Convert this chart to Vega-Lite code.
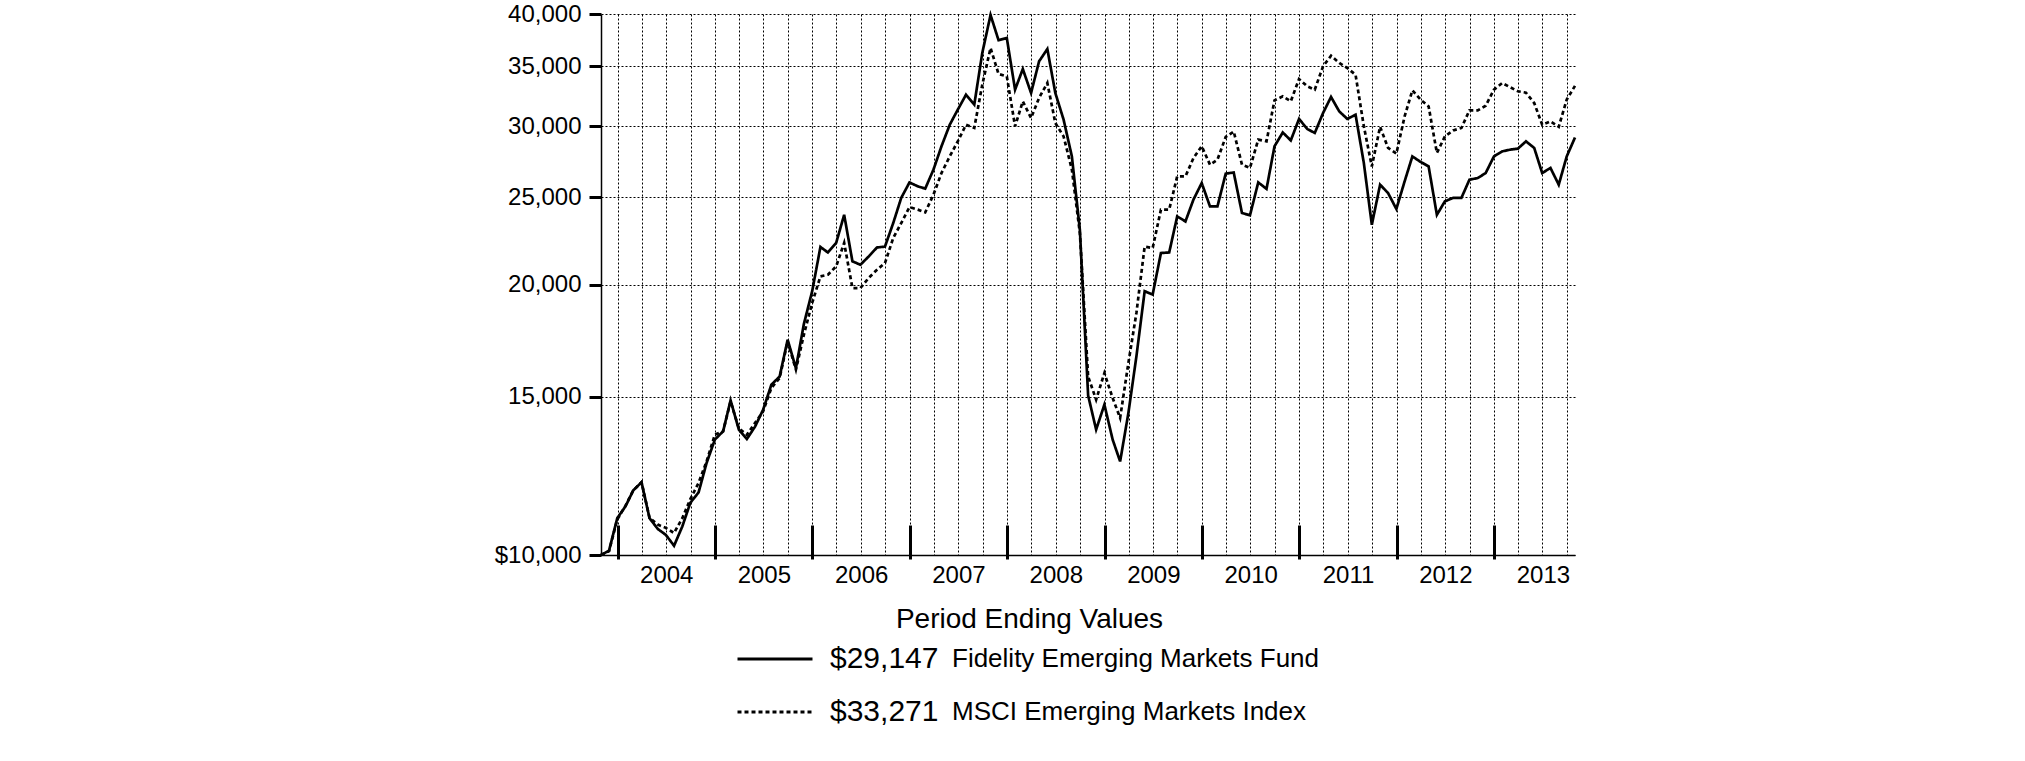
{
  "$schema": "https://vega.github.io/schema/vega-lite/v6.json",
  "width": 974,
  "height": 541,
  "autosize": {"type": "none"},
  "padding": {"left": 601, "top": 14, "right": 450, "bottom": 206},
  "background": "white",
  "config": {
    "view": {"stroke": null},
    "font": "Liberation Sans",
    "axis": {"labelFont": "Liberation Sans", "titleFont": "Liberation Sans", "labelColor": "black", "titleColor": "black"},
    "legend": {"labelFont": "Liberation Sans", "labelColor": "black", "labelLimit": 0}
  },
  "datasets": {
    "info": [
      {"key": "fund", "name": "Fidelity Emerging Markets Fund", "ending": "$29,147"},
      {"key": "index", "name": "MSCI Emerging Markets Index", "ending": "$33,271"}
    ]
  },
  "layer": [
    {
      "data": {"values": [
        {"date": "2003-10-31", "fund": 10000, "index": 10000},
        {"date": "2003-11-30", "fund": 10110, "index": 10100},
        {"date": "2003-12-31", "fund": 10990, "index": 10950},
        {"date": "2004-01-31", "fund": 11330, "index": 11350},
        {"date": "2004-02-29", "fund": 11800, "index": 11800},
        {"date": "2004-03-31", "fund": 12050, "index": 12050},
        {"date": "2004-04-30", "fund": 10990, "index": 11000},
        {"date": "2004-05-31", "fund": 10690, "index": 10810},
        {"date": "2004-06-30", "fund": 10530, "index": 10720},
        {"date": "2004-07-31", "fund": 10240, "index": 10580},
        {"date": "2004-08-31", "fund": 10760, "index": 10990},
        {"date": "2004-09-30", "fund": 11430, "index": 11540},
        {"date": "2004-10-31", "fund": 11740, "index": 12030},
        {"date": "2004-11-30", "fund": 12660, "index": 12710},
        {"date": "2004-12-31", "fund": 13440, "index": 13610},
        {"date": "2005-01-31", "fund": 13730, "index": 13730},
        {"date": "2005-02-28", "fund": 14860, "index": 14830},
        {"date": "2005-03-31", "fund": 13790, "index": 13830},
        {"date": "2005-04-30", "fund": 13460, "index": 13610},
        {"date": "2005-05-31", "fund": 13900, "index": 14030},
        {"date": "2005-06-30", "fund": 14510, "index": 14450},
        {"date": "2005-07-31", "fund": 15470, "index": 15340},
        {"date": "2005-08-31", "fund": 15800, "index": 15740},
        {"date": "2005-09-30", "fund": 17360, "index": 17290},
        {"date": "2005-10-31", "fund": 16140, "index": 16080},
        {"date": "2005-11-30", "fund": 18080, "index": 17590},
        {"date": "2005-12-31", "fund": 19660, "index": 19080},
        {"date": "2006-01-31", "fund": 22020, "index": 20420},
        {"date": "2006-02-28", "fund": 21710, "index": 20510},
        {"date": "2006-03-31", "fund": 22250, "index": 20950},
        {"date": "2006-04-30", "fund": 23910, "index": 22250},
        {"date": "2006-05-31", "fund": 21220, "index": 19820},
        {"date": "2006-06-30", "fund": 21040, "index": 19820},
        {"date": "2006-07-31", "fund": 21490, "index": 20340},
        {"date": "2006-08-31", "fund": 21990, "index": 20770},
        {"date": "2006-09-30", "fund": 22040, "index": 21130},
        {"date": "2006-10-31", "fund": 23410, "index": 22530},
        {"date": "2006-11-30", "fund": 24970, "index": 23410},
        {"date": "2006-12-31", "fund": 25980, "index": 24390},
        {"date": "2007-01-31", "fund": 25720, "index": 24230},
        {"date": "2007-02-28", "fund": 25570, "index": 24060},
        {"date": "2007-03-31", "fund": 26850, "index": 25180},
        {"date": "2007-04-30", "fund": 28500, "index": 26610},
        {"date": "2007-05-31", "fund": 30120, "index": 27770},
        {"date": "2007-06-30", "fund": 31300, "index": 28860},
        {"date": "2007-07-31", "fund": 32530, "index": 30120},
        {"date": "2007-08-31", "fund": 31710, "index": 29870},
        {"date": "2007-09-30", "fund": 36200, "index": 33370},
        {"date": "2007-10-31", "fund": 39900, "index": 36660},
        {"date": "2007-11-30", "fund": 37400, "index": 34300},
        {"date": "2007-12-31", "fund": 37610, "index": 34090},
        {"date": "2008-01-31", "fund": 32950, "index": 30000},
        {"date": "2008-02-29", "fund": 34740, "index": 31980},
        {"date": "2008-03-31", "fund": 32670, "index": 30640},
        {"date": "2008-04-30", "fund": 35430, "index": 32260},
        {"date": "2008-05-31", "fund": 36570, "index": 33520},
        {"date": "2008-06-30", "fund": 32670, "index": 30250},
        {"date": "2008-07-31", "fund": 30510, "index": 29230},
        {"date": "2008-08-31", "fund": 27770, "index": 26850},
        {"date": "2008-09-30", "fund": 23010, "index": 22820},
        {"date": "2008-10-31", "fund": 15050, "index": 15800},
        {"date": "2008-11-30", "fund": 13790, "index": 14890},
        {"date": "2008-12-31", "fund": 14700, "index": 15940},
        {"date": "2009-01-31", "fund": 13440, "index": 14950},
        {"date": "2009-02-28", "fund": 12710, "index": 14210},
        {"date": "2009-03-31", "fund": 14390, "index": 16360},
        {"date": "2009-04-30", "fund": 16630, "index": 18590},
        {"date": "2009-05-31", "fund": 19660, "index": 22040},
        {"date": "2009-06-30", "fund": 19490, "index": 21960},
        {"date": "2009-07-31", "fund": 21680, "index": 24230},
        {"date": "2009-08-31", "fund": 21710, "index": 24230},
        {"date": "2009-09-30", "fund": 23810, "index": 26380},
        {"date": "2009-10-31", "fund": 23510, "index": 26380},
        {"date": "2009-11-30", "fund": 24860, "index": 27650},
        {"date": "2009-12-31", "fund": 25940, "index": 28500},
        {"date": "2010-01-31", "fund": 24430, "index": 27190},
        {"date": "2010-02-28", "fund": 24430, "index": 27540},
        {"date": "2010-03-31", "fund": 26570, "index": 29190},
        {"date": "2010-04-30", "fund": 26650, "index": 29600},
        {"date": "2010-05-31", "fund": 24020, "index": 27190},
        {"date": "2010-06-30", "fund": 23880, "index": 26960},
        {"date": "2010-07-31", "fund": 25980, "index": 28990},
        {"date": "2010-08-31", "fund": 25550, "index": 28860},
        {"date": "2010-09-30", "fund": 28500, "index": 32060},
        {"date": "2010-10-31", "fund": 29530, "index": 32390},
        {"date": "2010-11-30", "fund": 28930, "index": 31980},
        {"date": "2010-12-31", "fund": 30570, "index": 33860},
        {"date": "2011-01-31", "fund": 29790, "index": 33230},
        {"date": "2011-02-28", "fund": 29490, "index": 32950},
        {"date": "2011-03-31", "fund": 31030, "index": 34980},
        {"date": "2011-04-30", "fund": 32340, "index": 35940},
        {"date": "2011-05-31", "fund": 31160, "index": 35280},
        {"date": "2011-06-30", "fund": 30570, "index": 34830},
        {"date": "2011-07-31", "fund": 30900, "index": 34230},
        {"date": "2011-08-31", "fund": 27310, "index": 30000},
        {"date": "2011-09-30", "fund": 23310, "index": 27070},
        {"date": "2011-10-31", "fund": 25830, "index": 29960},
        {"date": "2011-11-30", "fund": 25280, "index": 28380},
        {"date": "2011-12-31", "fund": 24270, "index": 27970},
        {"date": "2012-01-31", "fund": 26050, "index": 30770},
        {"date": "2012-02-29", "fund": 27770, "index": 32890},
        {"date": "2012-03-31", "fund": 27380, "index": 32120},
        {"date": "2012-04-30", "fund": 27070, "index": 31570},
        {"date": "2012-05-31", "fund": 23910, "index": 28020},
        {"date": "2012-06-30", "fund": 24750, "index": 29230},
        {"date": "2012-07-31", "fund": 24970, "index": 29680},
        {"date": "2012-08-31", "fund": 24970, "index": 29870},
        {"date": "2012-09-30", "fund": 26160, "index": 31240},
        {"date": "2012-10-31", "fund": 26270, "index": 31240},
        {"date": "2012-11-30", "fund": 26610, "index": 31620},
        {"date": "2012-12-31", "fund": 27770, "index": 32950},
        {"date": "2013-01-31", "fund": 28130, "index": 33520},
        {"date": "2013-02-28", "fund": 28250, "index": 33180},
        {"date": "2013-03-31", "fund": 28330, "index": 32810},
        {"date": "2013-04-30", "fund": 28860, "index": 32700},
        {"date": "2013-05-31", "fund": 28380, "index": 31840},
        {"date": "2013-06-30", "fund": 26610, "index": 30120},
        {"date": "2013-07-31", "fund": 26960, "index": 30380},
        {"date": "2013-08-31", "fund": 25830, "index": 29960},
        {"date": "2013-09-30", "fund": 27770, "index": 32120},
        {"date": "2013-10-31", "fund": 29147, "index": 33271}
      ]},
      "transform": [
        {"fold": ["fund", "index"], "as": ["key", "value"]},
        {"lookup": "key", "from": {"data": {"name": "info"}, "key": "key", "fields": ["name", "ending"]}}
      ],
      "mark": {"type": "line", "strokeWidth": 2.7, "strokeCap": "butt"},
      "encoding": {
        "x": {
          "field": "date", "type": "temporal",
          "scale": {"type": "utc", "nice": false, "domain": [{"year": 2003, "month": 10, "date": 31, "utc": true}, {"year": 2013, "month": 10, "date": 31, "utc": true}]},
          "axis": {"orient": "bottom", "tickCount": {"interval": "month", "step": 3}, "grid": true, "gridDash": [2, 2], "gridColor": "black", "gridWidth": 1, "gridOpacity": 1, "ticks": false, "labels": false, "domain": true, "domainColor": "black", "domainWidth": 1.5, "title": null}
        },
        "y": {
          "field": "value", "type": "quantitative",
          "scale": {"type": "log", "domain": [10000, 40000], "nice": false},
          "axis": {"values": [10000, 15000, 20000, 25000, 30000, 35000, 40000], "labelExpr": "datum.value == 10000 ? '$10,000' : format(datum.value, ',')", "grid": true, "gridDash": [2, 2], "gridColor": "black", "gridWidth": 1, "gridOpacity": 1, "tickSize": 12, "tickWidth": 3, "tickColor": "black", "domainColor": "black", "domainWidth": 1.5, "labelFontSize": 24, "labelPadding": 8, "title": null}
        },
        "strokeDash": {
          "field": "ending", "type": "nominal",
          "scale": {"domain": ["$29,147", "$33,271"], "range": [[1, 0], [4, 3]]},
          "legend": {"orient": "none", "legendX": 135, "legendY": 625, "title": null, "symbolType": "stroke", "symbolSize": 5625, "symbolStrokeWidth": 3, "symbolStrokeColor": "black", "labelFont": "Liberation Sans", "labelFontSize": 30, "labelOffset": 16, "labelLimit": 0, "clipHeight": 40, "rowPadding": 13, "padding": 0}
        },
        "color": {
          "field": "name", "type": "nominal",
          "scale": {"domain": ["Fidelity Emerging Markets Fund", "MSCI Emerging Markets Index"], "range": ["black", "black"]},
          "legend": {"orient": "none", "legendX": 325, "legendY": 625, "title": null, "symbolType": "stroke", "symbolSize": 0, "symbolOpacity": 0, "symbolStrokeWidth": 0, "labelFontSize": 26, "labelOffset": 0, "labelLimit": 0, "clipHeight": 40, "rowPadding": 13, "padding": 0}
        }
      }
    },
    {
      "mark": {"type": "rule", "color": "black", "strokeWidth": 1.5},
      "encoding": {
        "x": {"datum": {"year": 2003, "month": 10, "date": 31, "utc": true}, "type": "temporal",
          "axis": {"orient": "bottom", "tickCount": {"interval": "year", "step": 1}, "grid": false, "labels": false, "domain": false, "ticks": true, "tickSize": -34, "tickWidth": 3, "tickColor": "black", "offset": 4, "title": null}},
        "x2": {"datum": {"year": 2013, "month": 10, "date": 31, "utc": true}},
        "y": {"datum": 40000, "type": "quantitative"}
      }
    },
    {
      "mark": {"type": "rule", "color": "black", "strokeWidth": 1.5},
      "encoding": {
        "x": {"datum": {"year": 2003, "month": 10, "date": 31, "utc": true}, "type": "temporal",
          "axis": {"orient": "bottom", "tickCount": {"interval": "year", "step": 1}, "format": "%Y", "grid": false, "ticks": false, "domain": false, "labels": true, "labelOffset": 48.7, "labelFlush": false, "labelBound": false, "labelOverlap": false, "labelFontSize": 24, "labelPadding": 8,
            "title": "Period Ending Values", "titleFontSize": 28, "titleFontWeight": "normal", "titleX": 428, "titleY": 72, "titleBaseline": "alphabetic", "titleAlign": "center", "titleAnchor": "start"}},
        "x2": {"datum": {"year": 2013, "month": 10, "date": 31, "utc": true}},
        "y": {"datum": 10000, "type": "quantitative"}
      }
    }
  ],
  "resolve": {"axis": {"x": "independent"}}
}
